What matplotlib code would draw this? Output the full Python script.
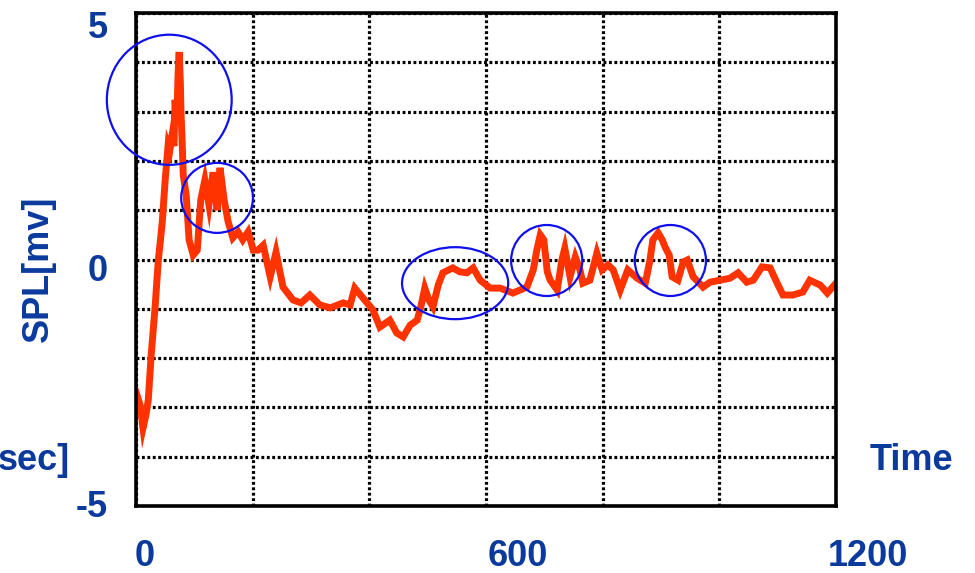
import matplotlib
matplotlib.use("Agg")
import matplotlib.pyplot as plt
from matplotlib.patches import Ellipse
from matplotlib.transforms import ScaledTranslation

plt.rcParams['font.family'] = ['Liberation Sans', 'DejaVu Sans']
plt.rcParams['font.weight'] = 'bold'

# signal
time = [0, 7, 12, 17, 21, 26, 33, 38, 45, 50, 55, 58, 62, 65, 67, 70, 72, 74, 76, 77,
        79, 81, 86, 91, 98, 105, 111, 118, 125, 132, 139, 144, 151, 158, 166, 175, 183,
        192, 201, 209, 218, 230, 240, 252, 269, 283, 298, 315, 333, 355, 367, 375, 389,
        406, 418, 435, 447, 458, 470, 482, 489, 495, 502, 509, 518, 526, 543, 555, 567,
        578, 590, 607, 624, 646, 658, 670, 681, 687, 693, 699, 705, 710, 722, 730, 735,
        744, 753, 761, 766, 778, 790, 799, 809, 818, 830, 843, 859, 873, 881, 886, 895,
        902, 907, 914, 919, 929, 938, 945, 955, 972, 984, 1001, 1018, 1032, 1047, 1058,
        1073, 1087, 1099, 1109, 1126, 1143, 1155, 1173, 1185, 1200]
spl = [-2.69, -2.95, -3.42, -3.15, -2.85, -1.94, -0.92, -0.05, 0.76, 1.61, 2.32, 2.22,
       2.53, 2.30, 3.24, 2.80, 3.74, 4.21, 3.60, 3.03, 2.40, 1.71, 1.31, 0.40, 0.09, 0.19,
       1.21, 1.61, 1.11, 1.77, 1.00, 1.86, 1.21, 0.76, 0.44, 0.56, 0.40, 0.56, 0.19, 0.19,
       0.29, -0.35, 0.15, -0.56, -0.82, -0.88, -0.72, -0.92, -0.98, -0.88, -0.92, -0.58,
       -0.78, -1.02, -1.37, -1.23, -1.49, -1.57, -1.33, -1.23, -0.92, -0.58, -0.82, -0.96,
       -0.52, -0.27, -0.17, -0.25, -0.27, -0.17, -0.42, -0.58, -0.58, -0.68, -0.62, -0.56,
       -0.21, 0.19, 0.50, 0.40, -0.25, -0.42, -0.62, -0.01, 0.23, -0.35, 0.05, -0.21,
       -0.48, -0.42, 0.13, -0.21, -0.11, -0.21, -0.62, -0.21, -0.38, -0.48, -0.01, 0.40,
       0.54, 0.40, 0.25, 0.09, -0.35, -0.42, -0.05, -0.01, -0.35, -0.56, -0.46, -0.42,
       -0.38, -0.27, -0.46, -0.42, -0.15, -0.17, -0.48, -0.72, -0.72, -0.66, -0.42, -0.52,
       -0.68, -0.48]

# highlighted regions: centre time, centre value, width, height
circ_t = [57, 139, 547, 704, 916]
circ_v = [3.24, 1.25, -0.48, -0.02, -0.02]
circ_w = [214, 123, 182, 122, 122]
circ_h = [2.64, 1.42, 1.46, 1.44, 1.44]

navy = '#0a3a9c'
fig = plt.figure(figsize=(9.75, 5.73), dpi=100)
ax = fig.add_axes([0.1395, 0.1169, 0.718, 0.8604])

ax.plot(time, spl, color='#ff3300', lw=5.0, solid_joinstyle='miter')

for t, v, w, h in zip(circ_t, circ_v, circ_w, circ_h):
    ax.add_patch(Ellipse((t, v), w, h, fill=False, ec='#1010ee', lw=1.6, clip_on=False, zorder=5))

ax.set_xlim(0, 1200)
ax.set_ylim(-5, 5)
ax.set_xticks(range(0, 1201, 200))
ax.set_xticklabels(['0', '', '', '600', '', '', '1200'])
ax.set_yticks(range(-5, 6))
ax.set_yticklabels(['-5', '', '', '', '', '0', '', '', '', '', '5'])
ax.grid(True, color='black', lw=2.3, ls=(0, (0.9, 0.8)))
ax.set_axisbelow(True)
for s in ax.spines.values():
    s.set_linewidth(2.6)
ax.tick_params(length=0, labelsize=26, labelcolor=navy)
ax.tick_params(axis='x', pad=24)
ax.tick_params(axis='y', pad=20)

# nudge tick labels like the original slide
xoff = [9, 0, 0, 32, 0, 0, 32]
for lab, d in zip(ax.get_xticklabels(), xoff):
    lab.set_transform(lab.get_transform() + ScaledTranslation(d / 100, 0, fig.dpi_scale_trans))
yoff = [3, 0, 0, 0, 0, -8, 0, 0, 0, 0, -11]
for lab, d in zip(ax.get_yticklabels(), yoff):
    lab.set_transform(lab.get_transform() + ScaledTranslation(0, d / 100, fig.dpi_scale_trans))

fig.text(38 / 975, 1 - 269 / 573, 'SPL[mv]', rotation=90, ha='center', va='center',
         fontsize=26, color=navy)
fig.text(70 / 975, 1 - 470 / 573, 'sec]', ha='right', va='baseline', fontsize=26, color=navy)
fig.text(870 / 975, 1 - 470 / 573, 'Time', ha='left', va='baseline', fontsize=26, color=navy)

fig.savefig('out.png', dpi=100)
